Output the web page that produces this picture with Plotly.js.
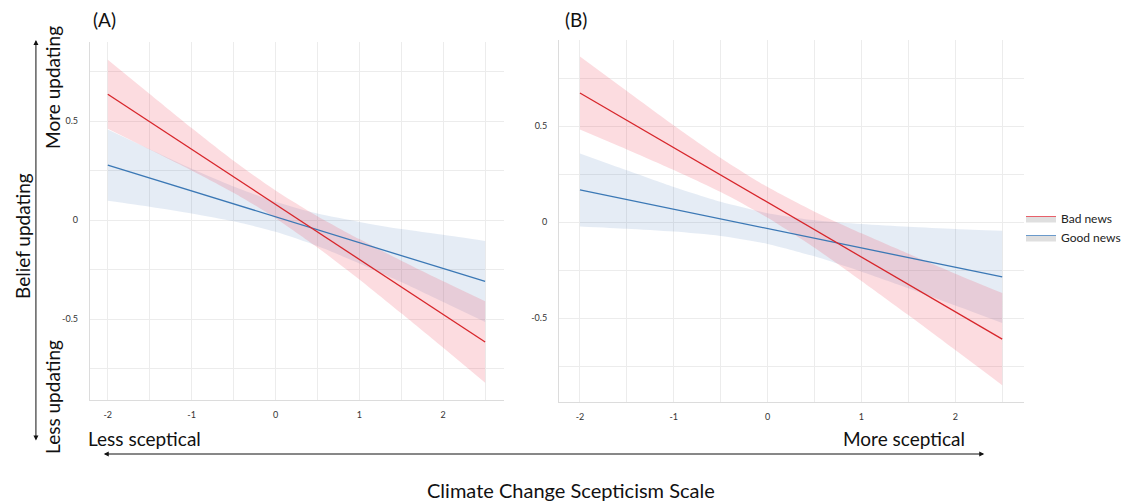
<!DOCTYPE html>
<html>
<head>
<meta charset="utf-8">
<script src="https://cdn.plot.ly/plotly-3.0.1.min.js"></script>
<style>html,body{margin:0;padding:0;background:#fff;}#chart{width:1126px;height:502px;}</style>
</head>
<body>
<div id="chart"></div>
<script>
// Climate change scepticism (standardised), sampled every 0.5
const xs = [-2, -1.5, -1, -0.5, 0, 0.5, 1, 1.5, 2, 2.5];

// Panel A
const aBadFit   = [0.636, 0.497, 0.358, 0.219, 0.080, -0.059, -0.198, -0.338, -0.477, -0.616];
const aBadUpper = [0.810, 0.637, 0.465, 0.300, 0.150, 0.020, -0.096, -0.205, -0.309, -0.410];
const aBadLower = [0.462, 0.357, 0.251, 0.138, 0.010, -0.138, -0.300, -0.471, -0.645, -0.822];
const aGoodFit   = [0.278, 0.213, 0.147, 0.082, 0.017, -0.049, -0.114, -0.179, -0.244, -0.310];
const aGoodUpper = [0.458, 0.358, 0.260, 0.170, 0.093, 0.033, -0.009, -0.045, -0.074, -0.105];
const aGoodLower = [0.098, 0.068, 0.034, -0.006, -0.059, -0.131, -0.219, -0.313, -0.414, -0.515];

// Panel B
const bBadFit   = [0.672, 0.530, 0.387, 0.245, 0.102, -0.040, -0.183, -0.325, -0.468, -0.610];
const bBadUpper = [0.862, 0.682, 0.503, 0.334, 0.182, 0.054, -0.059, -0.165, -0.269, -0.370];
const bBadLower = [0.482, 0.378, 0.271, 0.156, 0.022, -0.134, -0.307, -0.485, -0.667, -0.850];
const bGoodFit   = [0.167, 0.117, 0.066, 0.016, -0.034, -0.085, -0.135, -0.185, -0.236, -0.286];
const bGoodUpper = [0.357, 0.269, 0.182, 0.105, 0.046, 0.009, -0.011, -0.025, -0.037, -0.046];
const bGoodLower = [-0.023, -0.035, -0.050, -0.073, -0.114, -0.179, -0.259, -0.345, -0.435, -0.526];

const xTickVals = [-2, -1, 0, 1, 2];
const xTickText = ['-2', '-1', '0', '1', '2'];
const yTickVals = [-0.5, 0, 0.5];
const yTickText = ['-0.5', '0', '0.5'];
const seriesNames = ['Bad news', 'Good news'];

const RED = '#d7262b', BLUE = '#3b78b5';
const RED_FILL = 'rgba(240,80,100,0.2)', BLUE_FILL = 'rgba(80,125,190,0.15)';

function bandTraces(upper, lower, fill, xa, ya) {
  return [
    {x: xs, y: lower, xaxis: xa, yaxis: ya, type: 'scatter', mode: 'lines',
     line: {width: 0, shape: 'spline', smoothing: 0.7}, showlegend: false, hoverinfo: 'skip'},
    {x: xs, y: upper, xaxis: xa, yaxis: ya, type: 'scatter', mode: 'lines',
     fill: 'tonexty', fillcolor: fill,
     line: {width: 0, shape: 'spline', smoothing: 0.7}, showlegend: false, hoverinfo: 'skip'}
  ];
}
function fit(y, color, xa, ya) {
  return {x: xs, y: y, xaxis: xa, yaxis: ya, type: 'scatter', mode: 'lines',
    line: {color: color, width: 1.3}, showlegend: false};
}

const data = [].concat(
  bandTraces(aGoodUpper, aGoodLower, BLUE_FILL, 'x', 'y'),
  bandTraces(aBadUpper, aBadLower, RED_FILL, 'x', 'y'),
  [fit(aGoodFit, BLUE, 'x', 'y'), fit(aBadFit, RED, 'x', 'y')],
  bandTraces(bGoodUpper, bGoodLower, BLUE_FILL, 'x2', 'y2'),
  bandTraces(bBadUpper, bBadLower, RED_FILL, 'x2', 'y2'),
  [fit(bGoodFit, BLUE, 'x2', 'y2'), fit(bBadFit, RED, 'x2', 'y2')],
  [
    {x: [null], y: [null], type: 'scatter', mode: 'lines', fill: 'toself', name: seriesNames[0],
     fillcolor: 'rgba(215,215,215,0.8)', line: {color: '#e8606a', width: 1}, showlegend: true},
    {x: [null], y: [null], type: 'scatter', mode: 'lines', fill: 'toself', name: seriesNames[1],
     fillcolor: 'rgba(215,215,215,0.8)', line: {color: '#6a9acb', width: 1}, showlegend: true}
  ]
);

const W = 1126, H = 502;
const px = v => v / W, py = v => 1 - v / H;
const GRID = '#ececec';
const TICKFONT = {family: 'Lato, "Open Sans", sans-serif', size: 9, color: '#333'};

function xax(domain, range) {
  return {domain: domain, range: range, tickvals: xTickVals, ticktext: xTickText,
    showgrid: true, gridcolor: GRID, gridwidth: 1, zeroline: false,
    minor: {dtick: 0.5, tick0: 0, showgrid: true, gridcolor: GRID, gridwidth: 1},
    showline: true, linecolor: '#dcdcdc', linewidth: 1,
    ticks: 'outside', ticklen: 6, tickcolor: 'rgba(0,0,0,0)', tickfont: TICKFONT, fixedrange: true};
}
function yax(domain, range, anchor) {
  return {domain: domain, range: range, anchor: anchor, tickvals: yTickVals, ticktext: yTickText,
    showgrid: true, gridcolor: GRID, gridwidth: 1, zeroline: false,
    minor: {dtick: 0.25, tick0: 0, showgrid: true, gridcolor: GRID, gridwidth: 1},
    showline: true, linecolor: '#dcdcdc', linewidth: 1,
    ticks: 'outside', ticklen: 9, tickcolor: 'rgba(0,0,0,0)', tickfont: TICKFONT, fixedrange: true};
}

const TXT = 'Lato, "Open Sans", sans-serif';
function label(text, x, y, size, angle) {
  return {text: text, x: px(x), y: py(y), xref: 'paper', yref: 'paper', showarrow: false,
    xanchor: 'center', yanchor: 'middle', textangle: angle || 0,
    font: {family: TXT, size: size, color: '#111'}};
}
const layout = {
  width: W, height: H,
  margin: {l: 0, r: 0, t: 0, b: 0},
  paper_bgcolor: '#fff', plot_bgcolor: '#fff',
  xaxis: Object.assign(xax([px(90), px(505)], [-2.214, 2.726]), {anchor: 'y'}),
  yaxis: yax([py(400), py(42)], [-0.909, 0.9], 'x'),
  xaxis2: Object.assign(xax([px(560), px(1026)], [-2.223, 2.734]), {anchor: 'y2'}),
  yaxis2: yax([py(402), py(40)], [-0.9375, 0.948], 'x2'),
  showlegend: true,
  legend: {x: px(1023), y: py(204), xanchor: 'left', yanchor: 'top', traceorder: 'normal',
    font: {family: TXT, size: 12, color: '#222'}, itemwidth: 30, tracegroupgap: 0,
    bgcolor: 'rgba(0,0,0,0)'},
  annotations: [
    label('(A)', 105, 20, 19),
    label('(B)', 577, 20, 19),
    label('More updating', 52, 87, 19, -90),
    label('Belief updating', 22, 236, 19, -90),
    label('Less updating', 52, 397, 19, -90),
    label('Less sceptical', 145, 438, 19),
    label('More sceptical', 906, 438, 19),
    label('Climate Change Scepticism Scale', 572, 490, 20),
    {text: '', x: px(36), y: py(40), xref: 'paper', yref: 'paper', showarrow: true,
     ax: 0, ay: 402, arrowside: 'end+start', arrowhead: 2, arrowsize: 1, arrowwidth: 1, arrowcolor: '#111'},
    {text: '', x: px(986), y: py(454), xref: 'paper', yref: 'paper', showarrow: true,
     ax: -882, ay: 0, arrowside: 'end+start', arrowhead: 2, arrowsize: 1, arrowwidth: 1, arrowcolor: '#111'}
  ]
};

Plotly.newPlot('chart', data, layout, {staticPlot: true, displayModeBar: false});
</script>
</body>
</html>
